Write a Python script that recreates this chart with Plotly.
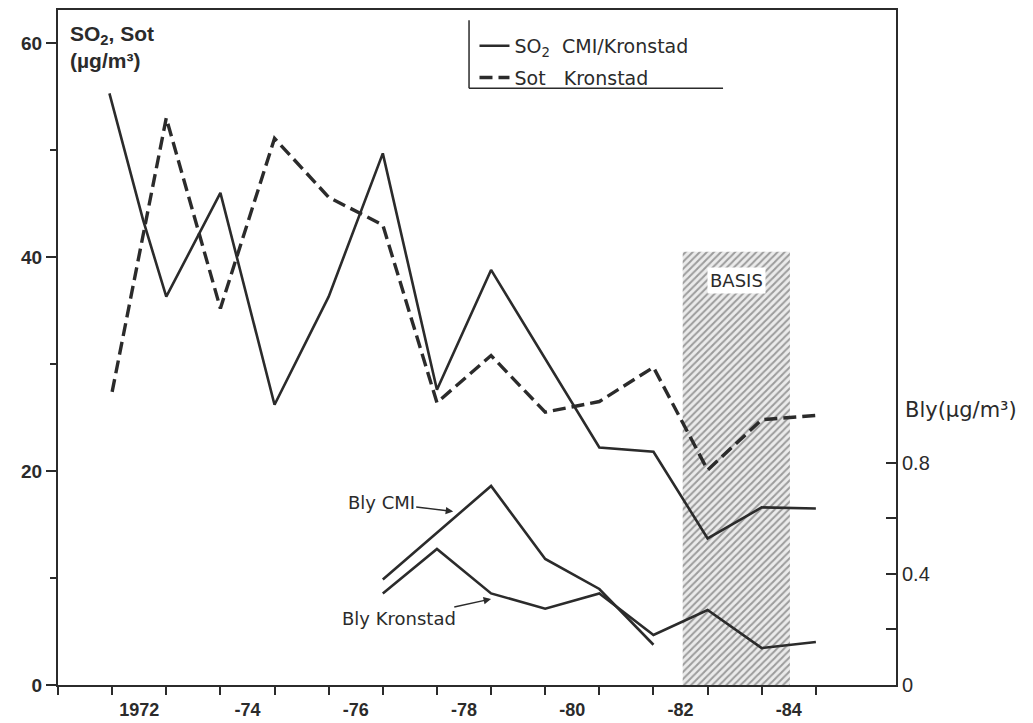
import plotly.graph_objects as go

# ---- data ----
so2_years = [1971.95, 1972.57, 1973.0, 1974.0, 1975.0, 1976.0, 1977.0, 1978.0, 1979.0, 1981.0, 1982.0, 1983.0, 1984.0, 1985.0]
so2_vals = [55.3, 43.5, 36.3, 46.0, 26.2, 36.3, 49.7, 27.6, 38.8, 22.2, 21.8, 13.7, 16.6, 16.5]

sot_years = [1972, 1973, 1974, 1975, 1976, 1977, 1978, 1979, 1980, 1981, 1982, 1983, 1984, 1985]
sot_vals = [27.4, 53.0, 35.2, 51.1, 45.6, 43.0, 26.4, 30.8, 25.5, 26.5, 29.7, 20.1, 24.8, 25.2]

bly_cmi_years = [1977, 1979, 1980, 1981, 1982]
bly_cmi_vals = [0.38, 0.717, 0.454, 0.346, 0.145]

bly_kron_years = [1977, 1978, 1979, 1980, 1981, 1982, 1983, 1984, 1985]
bly_kron_vals = [0.33, 0.49, 0.33, 0.275, 0.33, 0.18, 0.27, 0.133, 0.155]

basis_start, basis_end, basis_top = 1982.54, 1984.52, 40.5

x_label_pos = [1972.5, 1974.5, 1976.5, 1978.5, 1980.5, 1982.5, 1984.5]
x_label_txt = ["1972", "-74", "-76", "-78", "-80", "-82", "-84"]
x_tick_pos = list(range(1971, 1986))

y_tick_vals = [0, 20, 40, 60]
y_minor_vals = [10, 30, 50]
y2_tick_vals = [0, 0.4, 0.8]
y2_tick_txt = ["0", "0.4", "0.8"]
y2_minor_vals = [0.2, 0.6]

INK = "#2b2b2b"
TXT = "DejaVu Sans"
NUM = "Liberation Sans"

fig = go.Figure()

# BASIS hatched period
fig.add_trace(go.Bar(
    x=[(basis_start + basis_end) / 2], y=[basis_top], width=[basis_end - basis_start],
    marker=dict(color="white", line=dict(width=0),
                pattern=dict(shape="/", fgcolor="#9c9c9c", bgcolor="#ebebeb",
                             size=5, solidity=0.4, fillmode="replace")),
    showlegend=False, hoverinfo="skip", yaxis="y"))

fig.add_trace(go.Scatter(
    x=so2_years, y=so2_vals, mode="lines", name="SO<sub>2</sub>  CMI/Kronstad",
    line=dict(color=INK, width=2.6), legendgroup="a"))
fig.add_trace(go.Scatter(
    x=sot_years, y=sot_vals, mode="lines", name="Sot   Kronstad",
    line=dict(color=INK, width=3.4, dash="13px,6px"), legendgroup="b"))
fig.add_trace(go.Scatter(
    x=bly_cmi_years, y=bly_cmi_vals, mode="lines", name="Bly CMI", yaxis="y2",
    line=dict(color=INK, width=2.6), showlegend=False))
fig.add_trace(go.Scatter(
    x=bly_kron_years, y=bly_kron_vals, mode="lines", name="Bly Kronstad", yaxis="y2",
    line=dict(color=INK, width=2.6), showlegend=False))

annotations = [
    dict(text="SO<sub>2</sub>, Sot<br>(µg/m³)", xref="paper", yref="paper",
         x=0.012, y=0.985, xanchor="left", yanchor="top", align="left", showarrow=False,
         font=dict(family=NUM, size=21, color=INK, weight="bold")),
    dict(text="Bly(µg/m³)", xref="paper", yref="paper", x=1.008, y=0.407,
         xanchor="left", yanchor="middle", showarrow=False,
         font=dict(family=TXT, size=21, color=INK)),
    dict(text="BASIS", x=(basis_start + basis_end) / 2, y=37.8, xref="x", yref="y",
         showarrow=False, bgcolor="white", borderpad=2,
         font=dict(family=TXT, size=18, color=INK)),
    dict(text="Bly CMI", x=1978.3, y=0.625, xref="x", yref="y2",
         ax=-72, ay=-9, showarrow=True, arrowhead=2, arrowsize=1, arrowwidth=1.5,
         arrowcolor=INK, font=dict(family=TXT, size=18, color=INK)),
    dict(text="Bly Kronstad", x=1979.0, y=0.31, xref="x", yref="y2",
         ax=-92, ay=20, showarrow=True, arrowhead=2, arrowsize=1, arrowwidth=1.5,
         arrowcolor=INK, font=dict(family=TXT, size=18, color=INK)),
]

shapes = [
    dict(type="line", xref="paper", yref="paper", x0=0.4905, x1=0.4905, y0=0.985, y1=0.884,
         line=dict(color=INK, width=1.5)),
    dict(type="line", xref="paper", yref="paper", x0=0.4905, x1=0.7936, y0=0.884, y1=0.884,
         line=dict(color=INK, width=1.5)),
]

fig.update_layout(
    width=1033, height=723,
    margin=dict(l=58, r=137, t=10, b=38),
    paper_bgcolor="white", plot_bgcolor="white",
    showlegend=True,
    legend=dict(x=0.497, y=0.975, xanchor="left", yanchor="top", bgcolor="rgba(0,0,0,0)",
                font=dict(family=TXT, size=19, color=INK), tracegroupgap=4),
    xaxis=dict(range=[1971, 1986.48], showgrid=False, zeroline=False, automargin=False,
               showline=True, linecolor=INK, linewidth=2, mirror=True,
               tickmode="array", tickvals=x_label_pos, ticktext=x_label_txt,
               ticks="outside", ticklen=7, tickcolor="rgba(0,0,0,0)",
               tickfont=dict(family=NUM, size=18, color=INK, weight="bold"),
               minor=dict(tickmode="array", tickvals=x_tick_pos, ticks="outside",
                          ticklen=8, tickwidth=2, tickcolor=INK)),
    yaxis=dict(range=[0, 63.1], showgrid=False, zeroline=False, automargin=False,
               showline=True, linecolor=INK, linewidth=2,
               tickmode="array", tickvals=y_tick_vals,
               ticks="outside", ticklen=10, tickwidth=2, tickcolor=INK,
               tickfont=dict(family=NUM, size=19, color=INK, weight="bold"),
               minor=dict(tickmode="array", tickvals=y_minor_vals, ticks="outside",
                          ticklen=6, tickwidth=2, tickcolor=INK)),
    yaxis2=dict(range=[0, 2.432], overlaying="y", side="right", anchor="x", automargin=False,
                showgrid=False, zeroline=False, showline=True, linecolor=INK, linewidth=2,
                tickmode="array", tickvals=y2_tick_vals, ticktext=y2_tick_txt,
                ticks="inside", ticklen=10, tickwidth=2, tickcolor=INK,
                tickfont=dict(family=NUM, size=20, color=INK),
                minor=dict(tickmode="array", tickvals=y2_minor_vals, ticks="inside",
                           ticklen=10, tickwidth=2, tickcolor=INK)),
    annotations=annotations,
    shapes=shapes,
)

fig.write_html("out.html")
